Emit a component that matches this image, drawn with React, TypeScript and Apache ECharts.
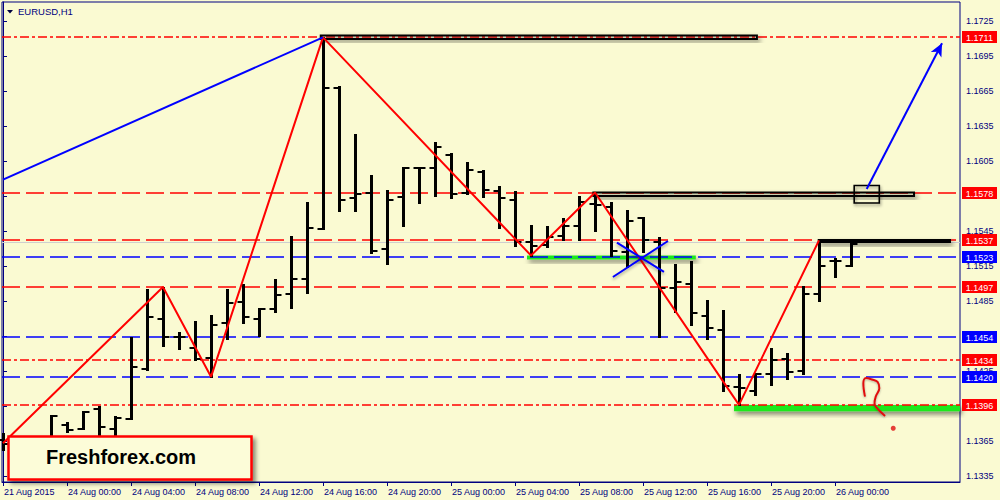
import React, { useEffect, useRef } from "react";
import * as echarts from "echarts";

// ---- data ----
const timeLabels = [
  "21 Aug 2015", "24 Aug 00:00", "24 Aug 04:00", "24 Aug 08:00", "24 Aug 12:00",
  "24 Aug 16:00", "24 Aug 20:00", "25 Aug 00:00", "25 Aug 04:00", "25 Aug 08:00",
  "25 Aug 12:00", "25 Aug 16:00", "25 Aug 20:00", "26 Aug 00:00",
];
const labelBars = [0, 4, 8, 12, 16, 20, 24, 28, 32, 36, 40, 44, 48, 52];
const priceTicks = [1.1335, 1.1365, 1.1395, 1.1425, 1.1455, 1.1485, 1.1515, 1.1545, 1.1575, 1.1605, 1.1635, 1.1665, 1.1695, 1.1725];

const opens = [1.1366, 1.1362, 1.1355, 1.1365, 1.1379, 1.1375, 1.1392, 1.1375, 1.1384, 1.1427, 1.1470, 1.1454, 1.1445, 1.1436, 1.1466, 1.1484, 1.1470, 1.1478, 1.1491, 1.1504, 1.1547, 1.1668, 1.1573, 1.1578, 1.1530, 1.1574, 1.1599, 1.1599, 1.1610, 1.1578, 1.1596, 1.1579, 1.1572, 1.1536, 1.1533, 1.1541, 1.1549, 1.1568, 1.1566, 1.1527, 1.1556, 1.1536, 1.1496, 1.1500, 1.1472, 1.1460, 1.1411, 1.1408, 1.1422, 1.1435, 1.1425, 1.1491, 1.1519, 1.1515];
const highs = [1.1372, 1.1366, 1.1367, 1.1387, 1.1381, 1.1391, 1.1395, 1.1386, 1.1454, 1.1495, 1.1497, 1.1458, 1.1468, 1.1473, 1.1495, 1.1500, 1.1479, 1.1504, 1.1541, 1.1570, 1.1711, 1.1669, 1.1628, 1.1593, 1.1580, 1.1600, 1.1600, 1.1621, 1.1612, 1.1604, 1.1597, 1.1584, 1.1579, 1.1550, 1.1549, 1.1556, 1.1575, 1.1578, 1.1570, 1.1563, 1.1557, 1.1540, 1.1517, 1.1519, 1.1486, 1.1477, 1.1422, 1.1423, 1.1445, 1.1440, 1.1498, 1.1537, 1.1522, 1.1535];
const lows = [1.1357, 1.1350, 1.1348, 1.1362, 1.1373, 1.1375, 1.1370, 1.1370, 1.1384, 1.1426, 1.1446, 1.1444, 1.1434, 1.1420, 1.1452, 1.1466, 1.1455, 1.1476, 1.1479, 1.1492, 1.1547, 1.1562, 1.1562, 1.1526, 1.1517, 1.1549, 1.1569, 1.1575, 1.1573, 1.1577, 1.1574, 1.1548, 1.1532, 1.1524, 1.1531, 1.1537, 1.1537, 1.1545, 1.1524, 1.1514, 1.1527, 1.1454, 1.1476, 1.1464, 1.1452, 1.1408, 1.1396, 1.1404, 1.1413, 1.1418, 1.1422, 1.1485, 1.1506, 1.1515];
const closes = [1.1362, 1.1355, 1.1364, 1.1386, 1.1374, 1.1390, 1.1377, 1.1385, 1.1428, 1.1471, 1.1454, 1.1454, 1.1435, 1.1464, 1.1483, 1.1471, 1.1478, 1.1490, 1.1504, 1.1548, 1.1668, 1.1572, 1.1577, 1.1528, 1.1572, 1.1599, 1.1599, 1.1617, 1.1577, 1.1597, 1.1580, 1.1573, 1.1536, 1.1532, 1.1540, 1.1549, 1.1570, 1.1567, 1.1528, 1.1554, 1.1537, 1.1496, 1.1501, 1.1475, 1.1462, 1.1412, 1.1410, 1.1422, 1.1434, 1.1424, 1.1491, 1.1515, 1.1519, 1.1534];

const redDashLevels = [1.1578, 1.1537, 1.1497];
const redDashDotLevels = [1.1711, 1.1434, 1.1396];
const blueDashLevels = [1.1523, 1.1454, 1.142];
const bidLevels = [1.15353];

const zigzagBars = [0, 10, 13, 20, 33, 37, 46, 51];
const zigzagPrices = [1.1363, 1.1497, 1.142, 1.1711, 1.1524, 1.1578, 1.1396, 1.1537];

const trendBars = [0, 20];
const trendPrices = [1.1589, 1.1711];

const arrowBars = [53.98, 58.69];
const arrowPrices = [1.1581, 1.1706];

const topBandBars = [19.86, 47.12];
const topBandPrices = [1.17126, 1.17096];
const midBandBars = [36.9, 56.94];
const midBandPrices = [1.1578, 1.1575];
const boxBars = [53.2, 54.77];
const boxPrices = [1.1584, 1.1569];
const resBars = [50.92, 59.25];
const resPrices = [1.15382, 1.15348];

const greenUpBars = [32.75, 43.3];
const greenUpPrices = [1.1524, 1.15206];
const greenLowBars = [45.69, 59.81];
const greenLowPrices = [1.13959, 1.13905];

const crossABars = [38.12, 41.56];
const crossAPrices = [1.15056, 1.15364];
const crossBBars = [38.37, 41.31];
const crossBPrices = [1.1535, 1.151];

const qBars = [53.875, 53.77, 53.94, 54.31, 54.66, 54.77, 54.56, 54.47, 54.56, 55.13];
const qPrices = [1.1403, 1.14145, 1.1419, 1.14177, 1.14156, 1.14102, 1.14036, 1.13976, 1.13942, 1.13864];
const dotBar = 55.64;
const dotPrice = 1.13759;

// ---- styles ----
const BG = "#FAFAD2";
const NAVY = "#000080";
const FONT = '"Liberation Sans", Arial, sans-serif';
const RED = "#ff0000";
const BLUE = "#0000ff";
const GREEN = "#1ee81e";
const DASH = [18, 6];
const DASHDOT = [9, 3, 3, 3];

const pair = (xs: number[], ys: number[]) => xs.map((x, i) => [x, ys[i]]);
const area = (xs: number[], ys: number[]) => [[{ xAxis: xs[0], yAxis: ys[0] }, { xAxis: xs[1], yAxis: ys[1] }]];

// horizontal level lines with price tags, placed through the y scale
const levelSeries = (levels: number[], color: string, dash: number[] | null, tag: boolean, width: number) => ({
  type: "custom",
  data: levels.map((v) => [0, v]),
  encode: { x: 0, y: 1 },
  silent: true,
  clip: false,
  renderItem: (params: any, api: any) => {
    const cs = params.coordSys;
    const y = Math.round(api.coord([0, api.value(1)])[1]) + (width === 1 ? 0.5 : 0);
    const right = cs.x + cs.width;
    const children: any[] = [
      { type: "line", shape: { x1: cs.x, y1: y, x2: right, y2: y }, style: { stroke: color, lineWidth: width, lineDash: dash || undefined } },
    ];
    if (tag) {
      children.push(
        { type: "rect", shape: { x: right + 2, y: y - 6, width: 35, height: 12 }, style: { fill: color } },
        { type: "text", style: { x: right + 19.5, y: y + 0.5, text: api.value(1).toFixed(4), fill: "#fff", font: `9px ${FONT}`, align: "center", verticalAlign: "middle" } }
      );
    }
    return { type: "group", children };
  },
});

export default function App() {
  const ref = useRef<HTMLDivElement>(null);

  useEffect(() => {
    if (!ref.current) return;
    const chart = echarts.init(ref.current, undefined, { renderer: "svg" });

    const ohlc = opens.map((o, i) => [i, o, highs[i], lows[i], closes[i]]);
    const shadow = { shadowBlur: 5, shadowColor: "rgba(0,0,0,0.5)", shadowOffsetX: 2, shadowOffsetY: 3 };

    const bandSeries = (xs: number[], ys: number[], itemStyle: any, z = 1) => ({
      type: "line",
      data: [],
      silent: true,
      markArea: { silent: true, z, itemStyle, data: area(xs, ys) },
    });

    const option: any = {
      animation: false,
      backgroundColor: BG,
      grid: { left: 2, right: 40, top: 2, bottom: 18, show: true, backgroundColor: BG, borderColor: NAVY, borderWidth: 1 },
      xAxis: {
        type: "value",
        min: -0.0625,
        max: 59.8125,
        axisLine: { show: true, lineStyle: { color: NAVY } },
        splitLine: { show: false },
        axisTick: { show: true, customValues: labelBars, length: 4, lineStyle: { color: NAVY } },
        axisLabel: {
          customValues: labelBars,
          formatter: (v: number) => timeLabels[labelBars.indexOf(Math.round(v))] ?? "",
          align: "left",
          color: NAVY,
          fontSize: 9,
          fontFamily: FONT,
          margin: 5,
          padding: [0, 0, 0, 1],
        },
      },
      yAxis: {
        type: "value",
        position: "right",
        min: 1.1329857,
        max: 1.1741286,
        axisLine: { show: true, lineStyle: { color: NAVY } },
        splitLine: { show: false },
        axisTick: { show: true, customValues: priceTicks, length: 4, lineStyle: { color: NAVY } },
        axisLabel: {
          customValues: priceTicks,
          formatter: (v: number) => v.toFixed(4),
          color: NAVY,
          fontSize: 9,
          fontFamily: FONT,
          margin: 6,
        },
      },
      graphic: [
        { type: "polygon", z: 100, shape: { points: [[7, 10], [13, 10], [10, 13.5]] }, style: { fill: "#000040" } },
        { type: "text", z: 100, x: 18, y: 11, style: { text: "EURUSD,H1", fill: NAVY, font: `9.5px ${FONT}`, verticalAlign: "middle" } },
        {
          type: "rect", z: 100,
          shape: { x: 8.5, y: 436.5, width: 243, height: 43 },
          style: { fill: "#fcfcd8", stroke: RED, lineWidth: 2.5, shadowBlur: 4, shadowOffsetX: 3, shadowOffsetY: 3, shadowColor: "rgba(0,0,0,0.45)" },
        },
        { type: "text", z: 101, x: 46, y: 457, style: { text: "Freshforex.com", fill: "#000", font: `bold 20px ${FONT}`, verticalAlign: "middle" } },
      ],
      series: [
        levelSeries(bidLevels, "#cfcfcf", null, false, 1),
        levelSeries(redDashLevels, RED, DASH, true, 1.5),
        levelSeries(redDashDotLevels, RED, DASHDOT, true, 1.5),
        levelSeries(blueDashLevels, BLUE, DASH, true, 1.5),
        {
          type: "custom",
          data: ohlc,
          encode: { x: 0, y: [1, 2, 3, 4] },
          silent: true,
          renderItem: (params: any, api: any) => {
            const i = api.value(0);
            const o = api.coord([i, api.value(1)]);
            const h = api.coord([i, api.value(2)]);
            const l = api.coord([i, api.value(3)]);
            const c = api.coord([i, api.value(4)]);
            const x = Math.round(o[0]) + 0.5;
            const yo = Math.round(o[1]);
            const yc = Math.round(c[1]);
            return {
              type: "group",
              children: [
                { type: "line", shape: { x1: x, y1: Math.round(h[1]), x2: x, y2: Math.round(l[1]) + 1 }, style: { stroke: "#000", lineWidth: 3 } },
                { type: "line", shape: { x1: x - 6, y1: yo, x2: x, y2: yo }, style: { stroke: "#000", lineWidth: 2 } },
                { type: "line", shape: { x1: x, y1: yc, x2: x + 6, y2: yc }, style: { stroke: "#000", lineWidth: 2 } },
              ],
            };
          },
        },
        {
          type: "line",
          data: pair(zigzagBars, zigzagPrices),
          showSymbol: false,
          silent: true,
          lineStyle: { color: RED, width: 2 },
        },
        {
          type: "line",
          data: pair(trendBars, trendPrices),
          showSymbol: false,
          silent: true,
          lineStyle: { color: BLUE, width: 2 },
        },
        bandSeries(topBandBars, topBandPrices, { color: "rgba(0,0,0,0)", borderColor: "#000", borderWidth: 2, ...shadow }, 3),
        bandSeries(midBandBars, midBandPrices, { color: "rgba(0,0,0,0)", borderColor: "#000", borderWidth: 2, ...shadow }, 3),
        bandSeries(boxBars, boxPrices, { color: "rgba(0,0,0,0)", borderColor: "#000", borderWidth: 1.6, shadowBlur: 3, shadowColor: "rgba(0,0,0,0.4)", shadowOffsetX: 1, shadowOffsetY: 2 }, 3),
        bandSeries(resBars, resPrices, { color: "#000", borderWidth: 0, ...shadow }, 3),
        bandSeries(greenUpBars, greenUpPrices, { color: GREEN, borderWidth: 0, ...shadow }, 1),
        bandSeries(greenLowBars, greenLowPrices, { color: GREEN, borderWidth: 0, ...shadow }, 1),
        {
          type: "line",
          data: pair(crossABars, crossAPrices),
          showSymbol: false,
          silent: true,
          z: 4,
          lineStyle: { color: BLUE, width: 2, shadowBlur: 3, shadowColor: "rgba(0,0,0,0.35)", shadowOffsetY: 2 },
        },
        {
          type: "line",
          data: pair(crossBBars, crossBPrices),
          showSymbol: false,
          silent: true,
          z: 4,
          lineStyle: { color: BLUE, width: 2, shadowBlur: 3, shadowColor: "rgba(0,0,0,0.35)", shadowOffsetY: 2 },
        },
        {
          type: "line",
          data: [],
          silent: true,
          markLine: {
            silent: true,
            z: 6,
            symbol: ["none", "arrow"],
            symbolSize: [9, 13],
            label: { show: false },
            lineStyle: { color: BLUE, width: 2, type: "solid" },
            data: [[{ coord: [arrowBars[0], arrowPrices[0]] }, { coord: [arrowBars[1], arrowPrices[1]] }]],
          },
        },
        {
          type: "line",
          data: pair(qBars, qPrices),
          showSymbol: false,
          smooth: 0.4,
          silent: true,
          z: 4,
          lineStyle: { color: "#e01010", width: 2, shadowBlur: 2, shadowColor: "rgba(0,0,0,0.3)", shadowOffsetY: 1 },
        },
        {
          type: "scatter",
          data: [[dotBar, dotPrice]],
          symbolSize: 5,
          silent: true,
          z: 4,
          itemStyle: { color: "#e01010" },
        },
      ],
    };

    chart.setOption(option);
    return () => chart.dispose();
  }, []);

  return <div ref={ref} style={{ position: "fixed", left: 0, top: 0, width: 1000, height: 500 }} />;
}
